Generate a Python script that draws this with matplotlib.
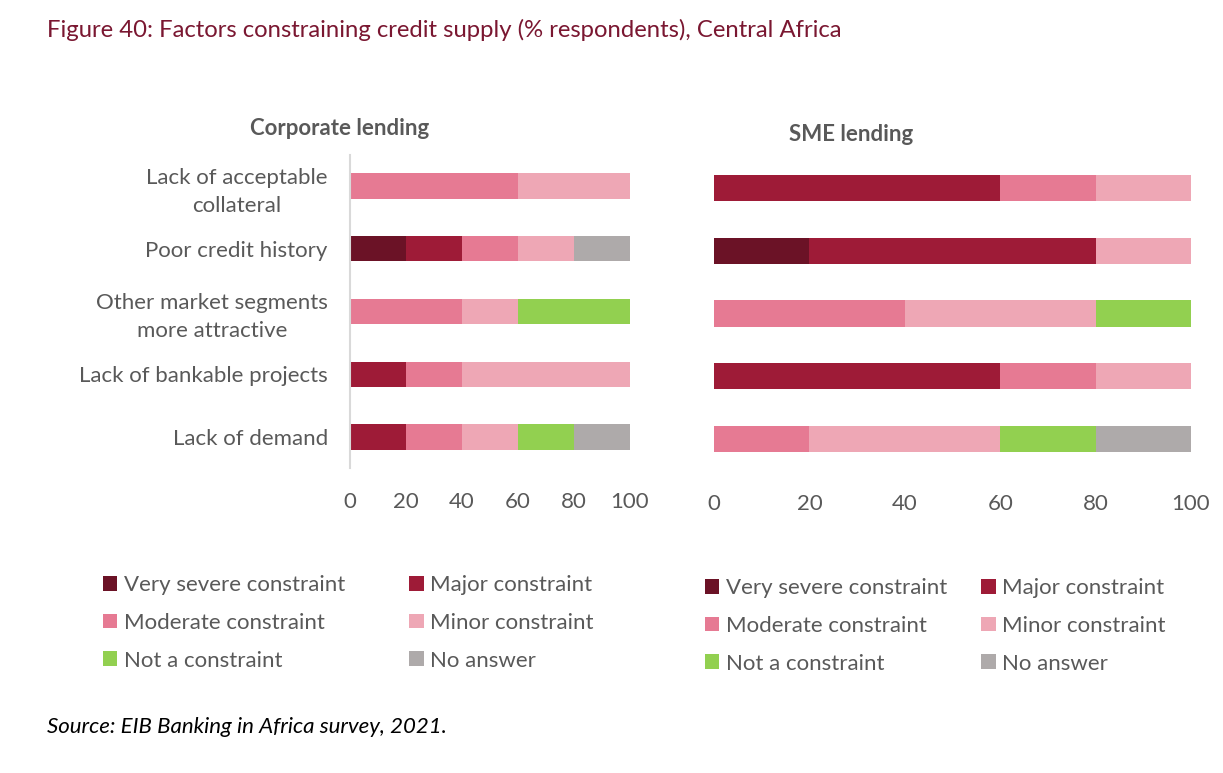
import numpy as np
import matplotlib.pyplot as plt
from matplotlib.patches import Patch

plt.rcParams['font.family'] = ['Lato', 'DejaVu Sans']

categories = ["Lack of acceptable\ncollateral", "Poor credit history",
              "Other market segments\nmore attractive", "Lack of bankable projects",
              "Lack of demand"]
levels = ["Very severe constraint", "Major constraint", "Moderate constraint",
          "Minor constraint", "Not a constraint", "No answer"]
colors = ["#6B1226", "#9E1B37", "#E67A93", "#EEA7B5", "#92D050", "#AEAAAA"]

# % respondents, rows = categories (top to bottom), cols = levels
corporate = [
    [0, 0, 60, 40, 0, 0],
    [20, 20, 20, 20, 0, 20],
    [0, 0, 40, 20, 40, 0],
    [0, 20, 20, 60, 0, 0],
    [0, 20, 20, 20, 20, 20],
]
sme = [
    [0, 60, 20, 20, 0, 0],
    [20, 60, 0, 20, 0, 0],
    [0, 0, 40, 40, 20, 0],
    [0, 60, 20, 20, 0, 0],
    [0, 0, 20, 40, 20, 20],
]
xticks = [0, 20, 40, 60, 80, 100]

txt = "#595959"
fig = plt.figure(figsize=(12.23, 7.73), dpi=100)
ax1 = fig.add_axes([350 / 1223, 1 - 468.4 / 773, 280 / 1223, 313.8 / 773])
ax2 = fig.add_axes([714 / 1223, 1 - 470.4 / 773, 477 / 1223, 313.8 / 773])


def draw(ax, data, height):
    data = np.array(data)
    y = np.arange(len(categories))
    left = np.zeros(len(categories))
    for j, lev in enumerate(levels):
        ax.barh(y, data[:, j], left=left, height=height, color=colors[j], label=lev)
        left += data[:, j]
    ax.set_ylim(len(categories) - 0.5, -0.5)
    ax.set_xlim(0, 100)
    ax.set_xticks(xticks)
    ax.tick_params(axis='x', length=0, pad=17, labelsize=16, labelcolor=txt)
    for s in ['top', 'right', 'bottom', 'left']:
        ax.spines[s].set_visible(False)


draw(ax1, corporate, 0.4)
draw(ax2, sme, 0.42)

ax1.spines['left'].set_visible(True)
ax1.spines['left'].set_color("#D9D9D9")
ax1.spines['left'].set_linewidth(1.5)
ax1.set_yticks(np.arange(len(categories)))
ax1.set_yticklabels(categories, multialignment='center', linespacing=1.5)
ax1.tick_params(axis='y', length=0, pad=16, labelsize=16, labelcolor=txt)
ax2.set_yticks([])

ax1.set_title("Corporate lending", x=-0.036, pad=14, fontsize=16, fontweight='bold', color=txt)
ax2.set_title("SME lending", x=0.287, pad=11, fontsize=16, fontweight='bold', color=txt)

# legends: row-wise order in 2 columns
order = [0, 2, 4, 1, 3, 5]
handles = [Patch(facecolor=colors[i], label=levels[i]) for i in order]
for xa, ya, cs in [(103 / 1223, 1 - 575 / 773, 2.9), (705 / 1223, 1 - 578 / 773, 1.55)]:
    leg = fig.legend(handles=handles, ncol=2, loc='upper left', bbox_to_anchor=(xa, ya),
                     frameon=False, fontsize=16, handlelength=0.65, handleheight=0.65,
                     handletextpad=0.28, labelspacing=0.8, columnspacing=cs,
                     borderaxespad=0, borderpad=0)
    for t in leg.get_texts():
        t.set_color(txt)

fig.text(47 / 1223, 1 - 30 / 773, "Figure 40: Factors constraining credit supply (% respondents), Central Africa",
         fontsize=17.2, color="#7A1731", va='center', ha='left')
fig.text(47 / 1223, 1 - 727 / 773, "Source: EIB Banking in Africa survey, 2021.",
         fontsize=16, style='italic', color="black", va='center', ha='left')

fig.savefig("out.png", dpi=100)
